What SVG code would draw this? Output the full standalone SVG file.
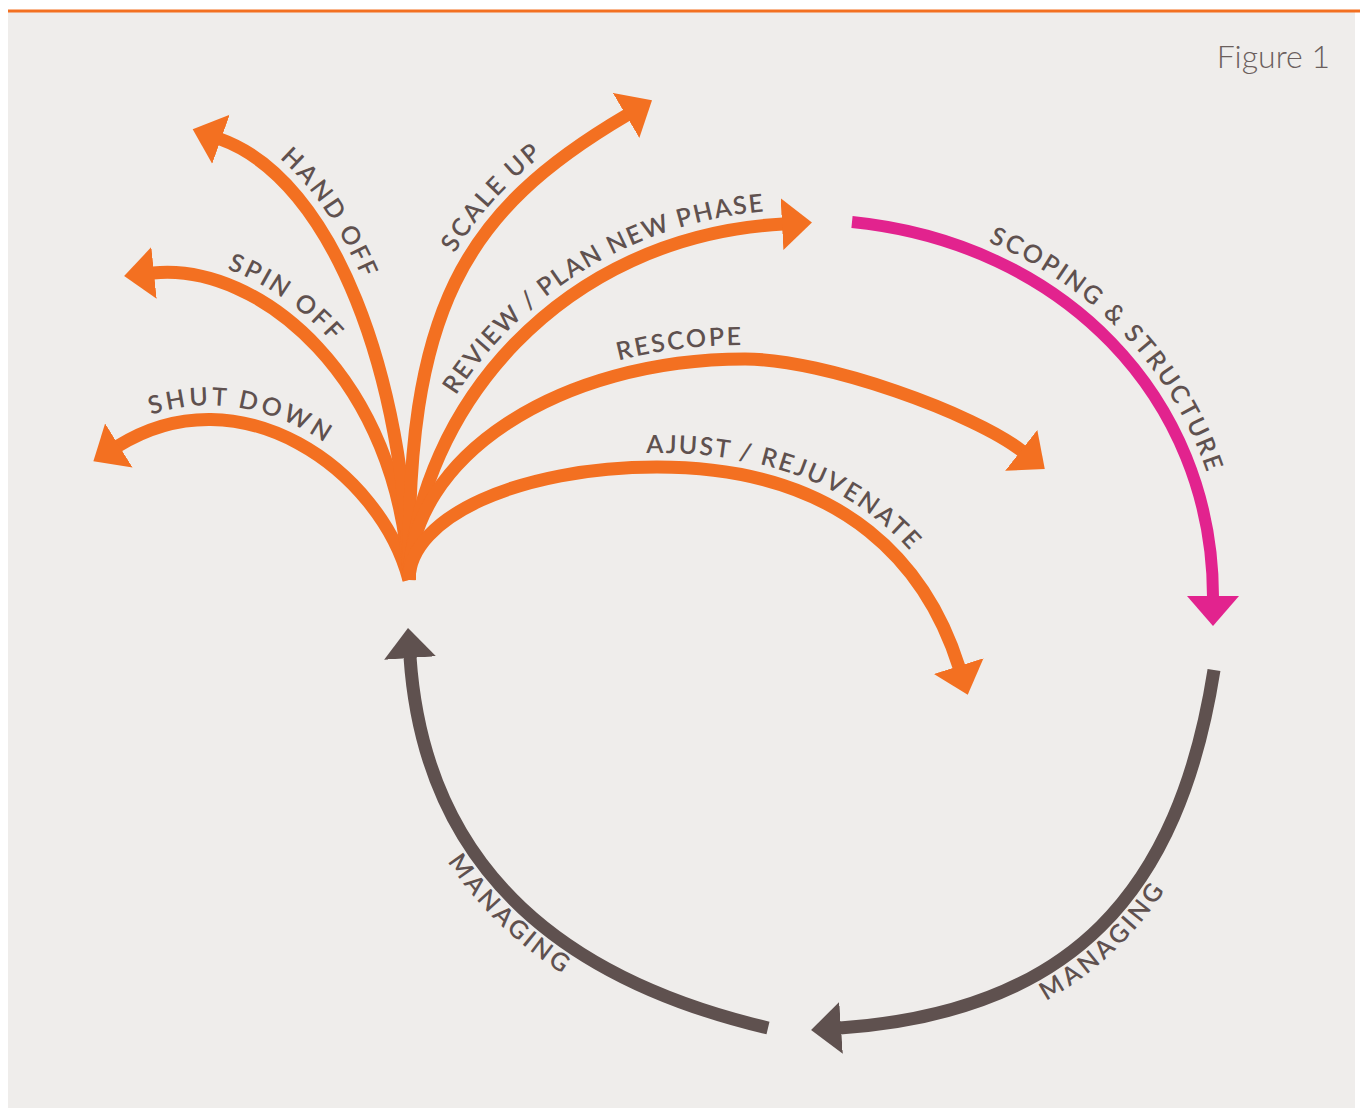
<svg xmlns="http://www.w3.org/2000/svg" xmlns:xlink="http://www.w3.org/1999/xlink" width="1360" height="1108" viewBox="0 0 1360 1108">
<style>
.c{fill:none;stroke-width:13;stroke-linecap:butt}
.o{stroke:#f37021}
.m{stroke:#e2238e;stroke-width:12}
.b{stroke:#5f514f}
.lbl{font-family:Lato,"Noto Sans","Liberation Sans",sans-serif;font-size:25px;font-weight:600;letter-spacing:1.8px;fill:#5f514f}
.tight{letter-spacing:1.1px}
.mid{letter-spacing:1.5px}
.fig{font-family:Lato,"Noto Sans","Liberation Sans",sans-serif;font-size:32px;font-weight:300;fill:#6b5f5d}
</style>
<defs>
<marker id="ao" markerUnits="userSpaceOnUse" markerWidth="32" markerHeight="54" refX="1" refY="27" orient="auto"><path d="M0,1 L30,27 L0,53 Z" fill="#f37021"/></marker>
<marker id="am" markerUnits="userSpaceOnUse" markerWidth="32" markerHeight="54" refX="1" refY="27" orient="auto"><path d="M0,1 L30,27 L0,53 Z" fill="#e2238e"/></marker>
<marker id="ab" markerUnits="userSpaceOnUse" markerWidth="32" markerHeight="54" refX="1" refY="27" orient="auto"><path d="M0,1 L30,27 L0,53 Z" fill="#5f514f"/></marker>
<path id="t-shut" d="M118,446 C240,370 380,470 409,578"/>
<path id="t-spin" d="M153,273 C260,262 400,380 409,578"/>
<path id="t-hand" d="M220,139 C335,180 405,380 409,578"/>
<path id="t-man-r" d="M840,1028 C1072,1012 1179,892 1214,670"/>
<path id="t-man-l" d="M410,657 C425,877 573,982 768,1028"/>
</defs>
<g id="frame">
<rect x="0" y="0" width="1360" height="1108" fill="#ffffff"/>
<rect x="8" y="12" width="1347" height="1096" fill="#efedeb"/>
<rect x="8" y="9.5" width="1352" height="3" fill="#f37021"/>
<text class="fig" x="1330" y="68" text-anchor="end">Figure 1</text>
</g>
<g id="connectors">
<path id="p-shut" class="c o" d="M409,580 C380,470 240,370 118,446" marker-end="url(#ao)"/>
<path id="p-spin" class="c o" d="M409,580 C400,380 260,262 153,273" marker-end="url(#ao)"/>
<path id="p-hand" class="c o" d="M409,580 C405,380 335,180 220,139" marker-end="url(#ao)"/>
<path id="p-scale" class="c o" d="M409,580 C406,310 462,212 627,115" marker-end="url(#ao)"/>
<path id="p-review" class="c o" d="M409,580 C418,410 560,236 783,224" marker-end="url(#ao)"/>
<path id="p-rescope" class="c o" d="M409,580 C409,457 559,359 745,359 C825,359 975,414 1022,451" marker-end="url(#ao)"/>
<path id="p-ajust" class="c o" d="M409,580 C409,517 520,467 657,467 C850,467 929,572 959,667" marker-end="url(#ao)"/>
<path id="p-scoping" class="c m" d="M852,222 C1062,243 1213,397 1213,597" marker-end="url(#am)"/>
<path id="p-man-r" class="c b" d="M1214,670 C1179,892 1072,1012 840,1028" marker-end="url(#ab)"/>
<path id="p-man-l" class="c b" d="M768,1028 C573,982 425,877 410,657" marker-end="url(#ab)"/>
</g>
<g id="labels">
<g id="lbl-shut"><text class="lbl" dy="-14"><textPath href="#t-shut" startOffset="41">SHUT DOWN</textPath></text></g>
<g id="lbl-spin"><text class="lbl" dy="-14"><textPath href="#t-spin" startOffset="70">SPIN OFF</textPath></text></g>
<g id="lbl-hand"><text class="lbl" dy="-14"><textPath href="#t-hand" startOffset="58">HAND OFF</textPath></text></g>
<g id="lbl-scale"><text class="lbl" dy="-14"><textPath href="#p-scale" startOffset="328">SCALE UP</textPath></text></g>
<g id="lbl-review"><text class="lbl tight" dy="-14"><textPath href="#p-review" startOffset="188">REVIEW / PLAN NEW PHASE</textPath></text></g>
<g id="lbl-rescope"><text class="lbl" dy="-14"><textPath href="#p-rescope" startOffset="318">RESCOPE</textPath></text></g>
<g id="lbl-ajust"><text class="lbl mid" dy="-14"><textPath href="#p-ajust" startOffset="283">AJUST / REJUVENATE</textPath></text></g>
<g id="lbl-scoping"><text class="lbl" dy="-14"><textPath href="#p-scoping" startOffset="135">SCOPING &amp; STRUCTURE</textPath></text></g>
<g id="lbl-man-r"><text class="lbl" dy="27"><textPath href="#t-man-r" startOffset="200">MANAGING</textPath></text></g>
<g id="lbl-man-l"><text class="lbl" dy="27"><textPath href="#t-man-l" startOffset="200">MANAGING</textPath></text></g>
</g>
</svg>
